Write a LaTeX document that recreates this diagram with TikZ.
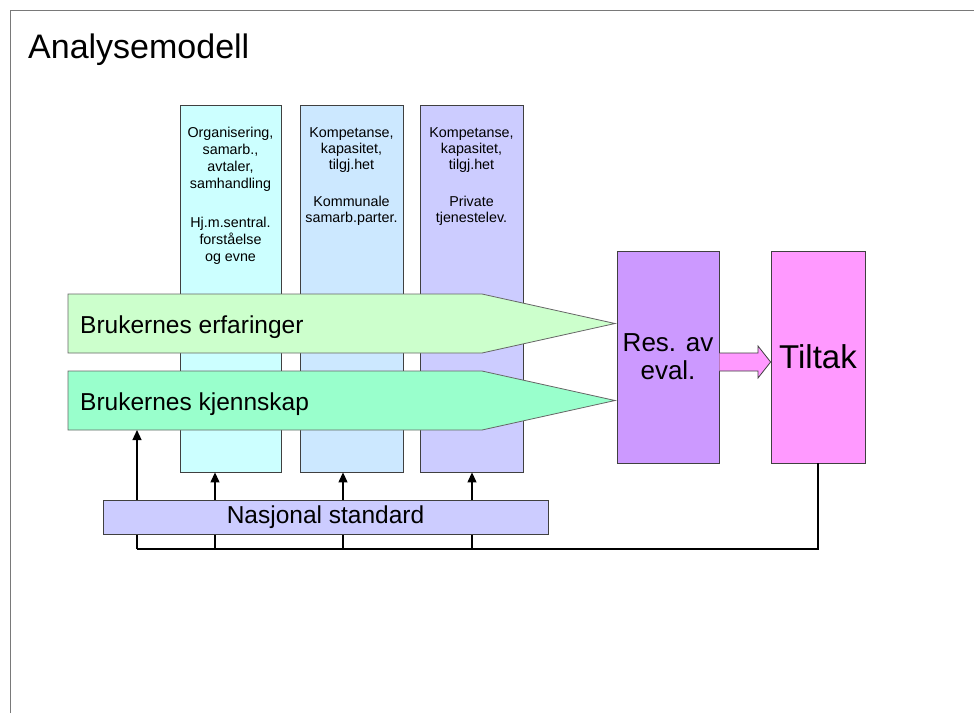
\documentclass[tikz,border=0pt]{standalone}
\usepackage{fontspec}
\setmainfont{Liberation Sans}
\usetikzlibrary{arrows.meta}
\definecolor{colA}{HTML}{CCFFFF}
\definecolor{colB}{HTML}{CCE8FF}
\definecolor{colC}{HTML}{CCCCFF}
\definecolor{arrA}{HTML}{CCFFCC}
\definecolor{arrB}{HTML}{99FFCC}
\definecolor{resC}{HTML}{CC99FF}
\definecolor{tilC}{HTML}{FF99FF}
\definecolor{edge}{HTML}{404040}
\begin{document}
\begin{tikzpicture}[x=1pt,y=-1pt,
  box/.style={draw=edge, line width=0.8pt, rectangle, inner sep=0pt},
  coltext/.style={anchor=north, align=center, inner sep=0pt, font=\fontsize{14.3}{16}\selectfont},
  conn/.style={line width=1.2pt, draw=black},
  tip/.style={-{Triangle[length=10pt,width=9pt]}}
]
\useasboundingbox (0,0) rectangle (974,713);
\fill[white] (0,0) rectangle (974,713);
\draw[edge!70, line width=0.8pt] (10,713) -- (10,10) -- (974,10);
\node[anchor=base west, inner sep=0pt, font=\fontsize{34}{40}\selectfont] (title) at (28,58) {Analysemodell};

% columns
\node[box, fill=colA, minimum width=101pt, minimum height=367pt] (c1) at (230.5,288.5) {};
\node[box, fill=colB, minimum width=103pt, minimum height=367pt] (c2) at (351.5,288.5) {};
\node[box, fill=colC, minimum width=103pt, minimum height=367pt] (c3) at (471.5,288.5) {};
\node[coltext, font=\fontsize{14.3}{17}\selectfont] (t1) at (230.5,127) {Organisering,\\samarb.,\\avtaler,\\samhandling\\[22pt]Hj.m.sentral.\\forståelse\\og evne};
\node[coltext] (t2) at (351.5,127) {Kompetanse,\\kapasitet,\\tilgj.het\\[21pt]Kommunale\\samarb.parter.};
\node[coltext] (t3) at (471.5,127) {Kompetanse,\\kapasitet,\\tilgj.het\\[21pt]Private\\tjenestelev.};

% pentagon arrows
\draw[draw=edge!80, line width=0.8pt, fill=arrA] (68,294) -- (482,294) -- (615,323.5) -- (482,353) -- (68,353) -- cycle;
\draw[draw=edge!80, line width=0.8pt, fill=arrB] (68,371) -- (482,371) -- (615,400.5) -- (482,430) -- (68,430) -- cycle;
\node[anchor=base west, inner sep=0pt, font=\fontsize{24.5}{28}\selectfont] (a1) at (80,333) {Brukernes erfaringer};
\node[anchor=base west, inner sep=0pt, font=\fontsize{24.5}{28}\selectfont] (a2) at (80,410) {Brukernes kjennskap};
\coordinate (a2foot) at (137,430);

% result and measures
\node[box, fill=resC, minimum width=102pt, minimum height=212pt, align=center,
      font=\fontsize{26}{28}\selectfont] (res) at (668,357) {Res. av\\eval.};
\node[box, fill=tilC, minimum width=94pt, minimum height=212pt,
      font=\fontsize{33}{38}\selectfont] (til) at (818,357) {Tiltak};
\draw[draw=edge, line width=0.8pt, fill=tilC] (res.east |- 0,353) -- (758,353) -- (758,346) -- (til.west |- 0,362) -- (758,378) -- (758,371) -- (res.east |- 0,371);

% feedback connectors
\coordinate (bot) at (til.south |- 0,549);
\draw[conn] (til.south) -- (bot) -- (137,549) coordinate (botL);
\draw[conn, tip] (botL) -- (a2foot);
\draw[conn] (215,549) -- (215,533);
\draw[conn] (343,549) -- (343,533);
\draw[conn] (472,549) -- (472,533);

\node[box, fill=colC, minimum width=445pt, minimum height=34pt,
      font=\fontsize{24.5}{28}\selectfont] (nat) at (325.5,517) {Nasjonal standard};
\draw[conn, tip] (nat.north -| 215,0) -- (c1.south -| 215,0);
\draw[conn, tip] (nat.north -| 343,0) -- (c2.south -| 343,0);
\draw[conn, tip] (nat.north -| 472,0) -- (c3.south -| 472,0);
\end{tikzpicture}
\end{document}
